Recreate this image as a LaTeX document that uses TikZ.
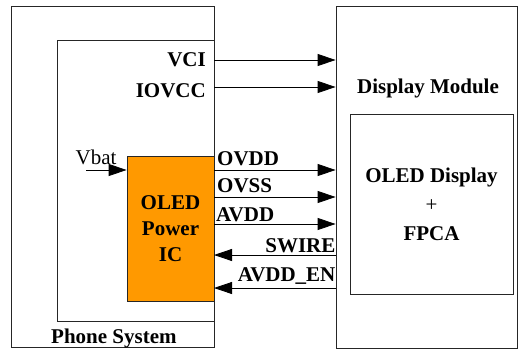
\documentclass[tikz,border=0pt]{standalone}
\usepackage{fontspec}
\setmainfont{Liberation Serif}
\usetikzlibrary{arrows.meta, positioning}
\definecolor{icOrange}{RGB}{255,153,0}

\begin{document}
\begin{tikzpicture}[
  x=1pt, y=-1pt,
  font=\fontsize{21}{26}\selectfont\bfseries,
  frame/.style={rectangle, draw=black!85, line width=0.8pt, inner sep=0pt},
  sig/.style={inner sep=0pt},
  flow/.style={-{Triangle[length=18pt, width=12pt]}, line width=0.8pt, draw=black},
]
\useasboundingbox (0,0) rectangle (518,351);

% --- Phone side -------------------------------------------------------------
\node[frame, minimum width=203pt, minimum height=341pt]                  (phone) at (112.5,176.5) {};
\node[frame, minimum width=157pt, minimum height=281pt]                  (host)  at (135.5,180.5) {};
\node[frame, fill=icOrange, minimum width=87pt, minimum height=145pt,
      align=center]                                                     (pic)   at (170.5,228.5) {OLED\\Power\\IC};
\node[sig, anchor=base west]                                            (phoneL) at (51,343) {Phone System};

% --- Display side -----------------------------------------------------------
\node[frame, minimum width=181pt, minimum height=342pt]                  (disp)  at (426.5,177) {};
\node[sig]                                                              (dispL) at (428,88) {Display Module};
\node[frame, minimum width=163pt, minimum height=180pt, align=center]    (oled)  at (431.5,204)
  {OLED Display\\[3pt]{\mdseries +}\\[3pt]FPCA};

% --- Signal points on the IC side -------------------------------------------
\coordinate (vci)    at (214,60);
\coordinate (iovcc)  at (214,87);
\coordinate (ovdd)   at (214,170);
\coordinate (ovss)   at (214,197);
\coordinate (avdd)   at (214,224);
\coordinate (swire)  at (214,255);
\coordinate (avddEn) at (214,288);
\coordinate (vbat)   at (86,170);

% --- Arrows -----------------------------------------------------------------
\foreach \s in {vci, iovcc, ovdd, ovss, avdd}
  \draw[flow] (\s) -- (\s -| disp.west);
\foreach \s in {swire, avddEn}
  \draw[flow] (\s -| disp.west) -- (\s);
\draw[flow] (vbat) -- (vbat -| pic.west);

% --- Signal labels ----------------------------------------------------------
\node[sig, left=8pt of vci]                       (vciL)   {VCI};
\node[sig, left=8pt of iovcc, yshift=-4pt]        (iovccL) {IOVCC};
\node[sig, above right=4pt and 3pt of ovdd]       (ovddL)  {OVDD};
\node[sig, above right=4pt and 3pt of ovss]       (ovssL)  {OVSS};
\node[sig, above right=2pt and 2pt of avdd]       (avddL)  {AVDD};
\node[sig, anchor=south east] at ([yshift=2pt]swire -| disp.west)  (swireL)  {SWIRE};
\node[sig, anchor=base east]  at ([yshift=7pt]avddEn -| disp.west) (avddEnL) {AVDD\_EN};
\node[sig, above=5pt of vbat, xshift=10pt, font=\fontsize{21}{26}\selectfont\mdseries] (vbatL) {Vbat};

\end{tikzpicture}
\end{document}
